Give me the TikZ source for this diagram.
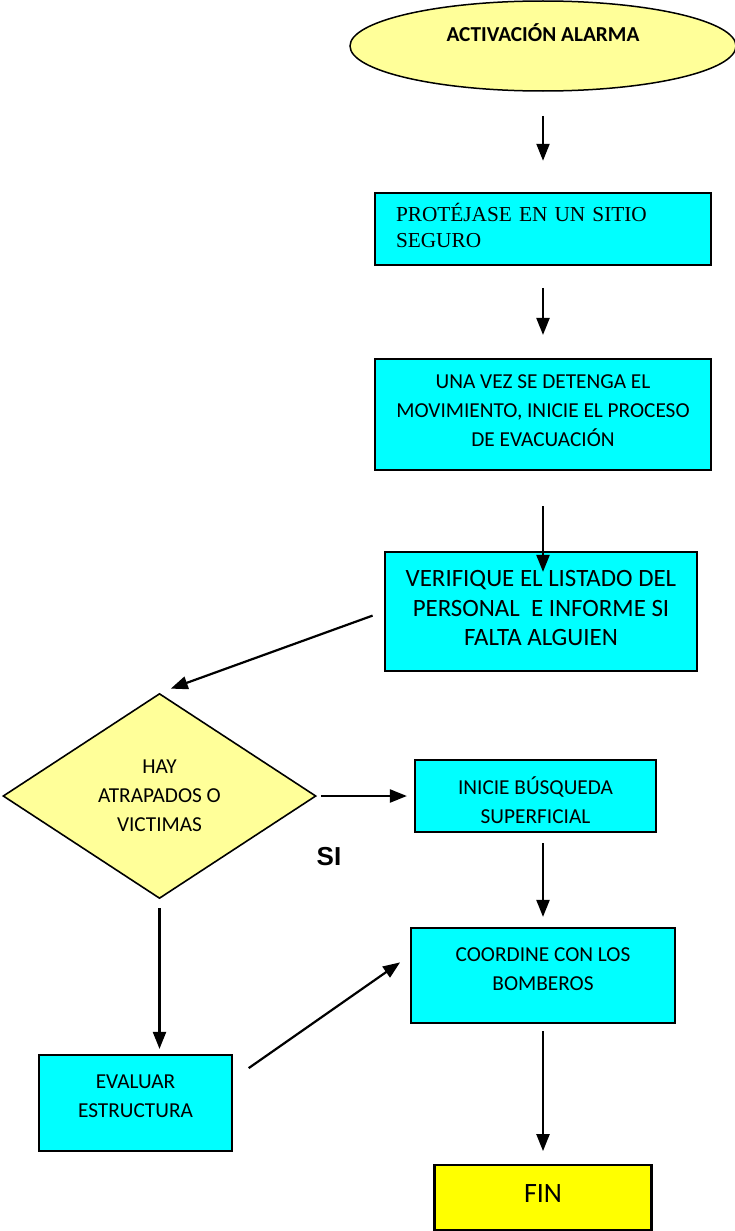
\documentclass[tikz,border=0pt]{standalone}
\usepackage{fontspec}
\setmainfont{Liberation Serif}
\newfontfamily\calibri{Carlito}
\newfontfamily\arialfont{Liberation Sans}
\usepackage{xcolor}
\usepackage{tikz}
\usetikzlibrary{arrows.meta,positioning,shapes.geometric}
\definecolor{boxcyan}{HTML}{00FFFF}
\definecolor{paleyellow}{HTML}{FFFF99}
\definecolor{finyellow}{HTML}{FFFF00}
\tikzset{
  process/.style={rectangle,draw,fill=boxcyan,line width=2.2pt,align=center,
    font=\calibri\fontsize{21.3}{29}\selectfont},
  start/.style={ellipse,draw,fill=paleyellow,line width=1.5pt,
    font=\calibri\bfseries\fontsize{21.3}{26}\selectfont},
  decision/.style={diamond,draw,fill=paleyellow,line width=1.6pt,align=center,
    shape aspect=1.5,inner sep=0pt,font=\calibri\fontsize{21.3}{29}\selectfont},
  flow/.style={
    -{Triangle[length=17pt,width=13pt]},line width=2.2pt
  }
}
\begin{document}
\begin{tikzpicture}[x=1pt,y=-1pt]
  \useasboundingbox (0,0) rectangle (735,1231);

  \node[start,minimum width=386pt,minimum height=90pt,text height=14pt,text depth=22pt] (alarma) at (543,46) {ACTIVACIÓN ALARMA};
  \node[process,below=100pt of alarma,align=left,text width=294pt,inner xsep=21pt,minimum height=72pt,text depth=32pt,
    font=\rmfamily\fontsize{21.3}{26}\selectfont] (protect) {PROTÉJASE EN UN SITIO\\SEGURO};
  \node[process,below=92pt of protect,minimum width=336pt,minimum height=111pt,text depth=8pt] (evacuate) {UNA VEZ SE DETENGA EL\\MOVIMIENTO, INICIE EL PROCESO\\DE EVACUACIÓN};
  \node[process,minimum width=312pt,minimum height=119pt,text depth=7pt,
    font=\calibri\fontsize{24.9}{29.5}\selectfont] (verify) at (541,611.5) {VERIFIQUE EL LISTADO DEL\\PERSONAL~ E INFORME SI\\FALTA ALGUIEN};
  \node[decision,minimum width=313pt,minimum height=205pt] (hay) at (159.5,796) {HAY\\ATRAPADOS O\\VICTIMAS};
  \node[process,minimum width=241pt,minimum height=72pt,text height=55pt] (search) at (535.5,796) {INICIE BÚSQUEDA\\SUPERFICIAL};
  \node[process,minimum width=264pt,minimum height=95pt,text depth=13pt] (bomberos) at (543,975.5) {COORDINE CON LOS\\BOMBEROS};
  \node[process,minimum width=193pt,minimum height=96pt,text depth=14pt] (evaluate) at (135.5,1103) {EVALUAR\\ESTRUCTURA};
  \node[process,below=140pt of bomberos,fill=finyellow,minimum width=217pt,minimum height=65pt,text depth=8pt,
    font=\calibri\fontsize{28}{34}\selectfont] (fin) {FIN};
  \node[font=\arialfont\bfseries\fontsize{26}{30}\selectfont] (si) at (329,857) {SI};

  \path[flow]
  (alarma) edge[shorten <=24pt,shorten >=31pt] (protect)
  (protect) edge[shorten <=22pt,shorten >=23pt] (evacuate)
  (evacuate.south) edge[shorten <=35pt,shorten >=-21pt] (evacuate.south |- verify.north)
  (verify.west) edge[shorten <=12pt,shorten >=12pt] (hay.north)
  (hay.east) edge[shorten <=4pt,shorten >=7pt] (search.west)
  (search.south -| bomberos.north) edge[shorten <=10pt,shorten >=10pt] (bomberos.north)
  (hay.south) edge[shorten <=9pt,shorten >=5pt] (evaluate.north -| hay.south)
  ([yshift=24pt]evaluate.east) edge[shorten <=19pt,shorten >=12pt] ([yshift=20pt]bomberos.west)
  (bomberos) edge[shorten <=7pt,shorten >=13pt] (fin)
  ;
\end{tikzpicture}
\end{document}
